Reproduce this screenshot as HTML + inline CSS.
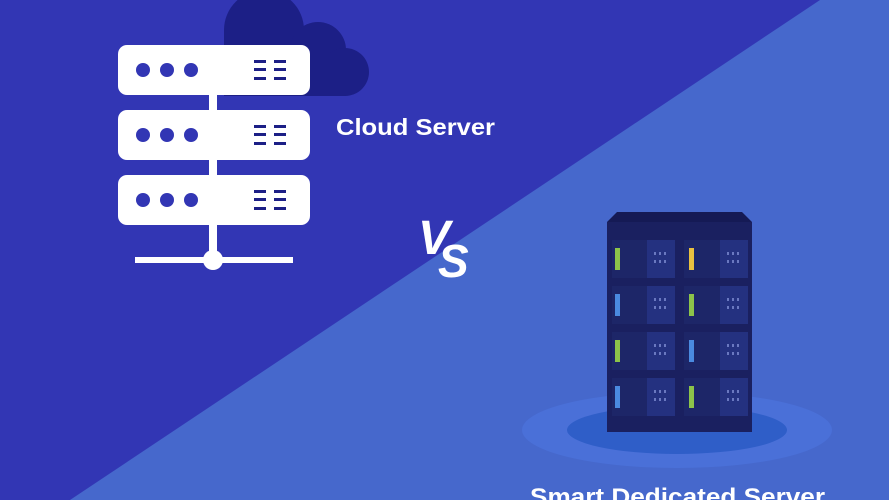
<!DOCTYPE html>
<html><head><meta charset="utf-8"><style>
html,body{margin:0;padding:0;width:889px;height:500px;overflow:hidden}
svg{display:block}
</style></head><body>
<svg width="889" height="500" viewBox="0 0 889 500" xmlns="http://www.w3.org/2000/svg">
<rect width="889" height="500" fill="#4668cc"/>
<polygon points="0,0 820,0 70,500 0,500" fill="#3236b4"/>
<!-- cloud -->
<g fill="#1c1f86">
<circle cx="264" cy="30" r="40"/>
<circle cx="318" cy="50" r="28"/>
<circle cx="345" cy="72" r="24"/>
<rect x="224" y="30" width="60" height="66"/>
<rect x="270" y="55" width="76" height="41"/>
</g>
<!-- server stack -->
<g fill="#fff">
<rect x="209" y="94" width="8" height="18"/>
<rect x="209" y="159" width="8" height="18"/>
<rect x="209" y="224" width="8" height="38"/>
<rect x="135" y="257" width="158" height="6"/>
<circle cx="213" cy="260" r="10"/>
<rect x="118" y="45" width="192" height="50" rx="9"/>
<rect x="118" y="110" width="192" height="50" rx="9"/>
<rect x="118" y="175" width="192" height="50" rx="9"/>
</g>
<g fill="#3236b4">
<circle cx="143" cy="70" r="7"/><circle cx="167" cy="70" r="7"/><circle cx="191" cy="70" r="7"/>
<circle cx="143" cy="135" r="7"/><circle cx="167" cy="135" r="7"/><circle cx="191" cy="135" r="7"/>
<circle cx="143" cy="200" r="7"/><circle cx="167" cy="200" r="7"/><circle cx="191" cy="200" r="7"/>
</g>
<g fill="#1c1f86">
<rect x="254" y="60" width="12" height="3"/><rect x="274" y="60" width="12" height="3"/>
<rect x="254" y="68" width="12" height="3"/><rect x="274" y="68" width="12" height="3"/>
<rect x="254" y="77" width="12" height="3"/><rect x="274" y="77" width="12" height="3"/>
<rect x="254" y="125" width="12" height="3"/><rect x="274" y="125" width="12" height="3"/>
<rect x="254" y="133" width="12" height="3"/><rect x="274" y="133" width="12" height="3"/>
<rect x="254" y="142" width="12" height="3"/><rect x="274" y="142" width="12" height="3"/>
<rect x="254" y="190" width="12" height="3"/><rect x="274" y="190" width="12" height="3"/>
<rect x="254" y="198" width="12" height="3"/><rect x="274" y="198" width="12" height="3"/>
<rect x="254" y="207" width="12" height="3"/><rect x="274" y="207" width="12" height="3"/>
</g>
<text x="336" y="135" fill="#fff" font-family="Liberation Sans, sans-serif" font-weight="bold" font-size="23" textLength="159" lengthAdjust="spacingAndGlyphs">Cloud Server</text>
<text x="418" y="254" fill="#fff" font-family="Liberation Sans, sans-serif" font-weight="bold" font-style="italic" font-size="48">V</text>
<text x="438" y="277" fill="#fff" font-family="Liberation Sans, sans-serif" font-weight="bold" font-style="italic" font-size="46">S</text>
<!-- dedicated -->
<ellipse cx="677" cy="430" rx="155" ry="38" fill="#4a70d8"/>
<ellipse cx="677" cy="430" rx="110" ry="24" fill="#2f5ec8"/>
<polygon points="617,212 742,212 752,222 752,432 607,432 607,222" fill="#151a55"/>
<rect x="607" y="222" width="145" height="210" fill="#1a2060"/>
<g id="row">
<rect x="612" y="240" width="63" height="38" fill="#1d2668"/>
<rect x="647" y="240" width="28" height="38" fill="#243180"/>
<rect x="684" y="240" width="64" height="38" fill="#1d2668"/>
<rect x="720" y="240" width="28" height="38" fill="#243180"/>
<g fill="#6a78c0">
<rect x="654" y="252" width="2" height="3"/><rect x="659" y="252" width="2" height="3"/><rect x="664" y="252" width="2" height="3"/>
<rect x="654" y="260" width="2" height="3"/><rect x="659" y="260" width="2" height="3"/><rect x="664" y="260" width="2" height="3"/>
<rect x="727" y="252" width="2" height="3"/><rect x="732" y="252" width="2" height="3"/><rect x="737" y="252" width="2" height="3"/>
<rect x="727" y="260" width="2" height="3"/><rect x="732" y="260" width="2" height="3"/><rect x="737" y="260" width="2" height="3"/>
</g>
</g>
<use href="#row" y="46"/><use href="#row" y="92"/><use href="#row" y="138"/>
<rect x="615" y="248" width="5" height="22" fill="#8cc34a"/>
<rect x="689" y="248" width="5" height="22" fill="#e8c040"/>
<rect x="615" y="294" width="5" height="22" fill="#4a8ae0"/>
<rect x="689" y="294" width="5" height="22" fill="#8cc34a"/>
<rect x="615" y="340" width="5" height="22" fill="#8cc34a"/>
<rect x="689" y="340" width="5" height="22" fill="#4a8ae0"/>
<rect x="615" y="386" width="5" height="22" fill="#4a8ae0"/>
<rect x="689" y="386" width="5" height="22" fill="#8cc34a"/>
<text x="530" y="505" fill="#fff" font-family="Liberation Sans, sans-serif" font-weight="bold" font-size="24" textLength="295" lengthAdjust="spacingAndGlyphs">Smart Dedicated Server</text>
</svg>
</body></html>
